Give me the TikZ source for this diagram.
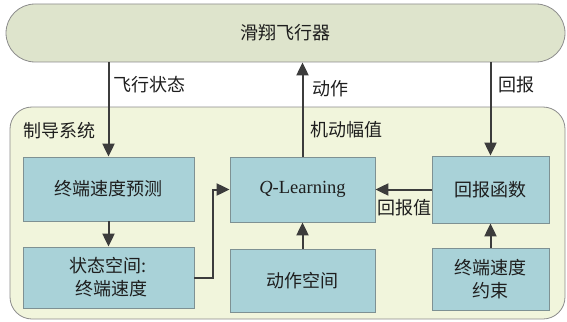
\documentclass[tikz,border=0pt]{standalone}
\usepackage{fontspec}
\setmainfont{Liberation Serif}
\newfontfamily\cjk{Noto Sans CJK SC}
\usetikzlibrary{arrows.meta}
\definecolor{topfill}{HTML}{DEE4CC}
\definecolor{innerfill}{HTML}{F1F5DC}
\definecolor{boxfill}{HTML}{A9D2D8}
\definecolor{edgegray}{HTML}{8C8C8C}
\definecolor{boxedge}{HTML}{7E9193}
\definecolor{arrowgray}{HTML}{3C3C3C}
\definecolor{txt}{HTML}{1E1E1E}
\tikzset{
  cjktext/.style={font=\cjk\fontsize{18}{23}\selectfont, text=txt},
  blockbox/.style={draw=boxedge, fill=boxfill, line width=0.8pt, align=center, inner sep=0pt, cjktext},
  flowarrow/.style={draw=arrowgray, line width=2pt, -{Triangle[length=13pt,width=12pt]}},
  lbl/.style={cjktext, inner sep=0pt}
}
\begin{document}
\begin{tikzpicture}[x=1pt,y=-1pt]
\useasboundingbox (0,0) rectangle (567,321);
\node[draw=edgegray, fill=topfill, line width=0.8pt, rounded corners=29pt, minimum width=559pt, minimum height=58pt, inner sep=0pt, cjktext] (top) at (285.5,33) {滑翔飞行器};
\node[draw=edgegray, fill=innerfill, line width=0.8pt, rounded corners=22pt, minimum width=555pt, minimum height=212pt, inner sep=0pt] (inner) at (287.5,213) {};
\node[lbl, anchor=west] (sys) at (23,131) {制导系统};
\node[blockbox, minimum width=171pt, minimum height=64pt] (pred) at (108.5,189) {终端速度预测};
\node[blockbox, minimum width=171pt, minimum height=61pt] (state) at (108.5,277.5) {状态空间:\\\hspace*{6pt}终端速度};
\node[blockbox, minimum width=145pt, minimum height=65pt, font=\fontsize{18.5}{23}\selectfont] (ql) at (302.5,189.5) {\textit{Q}-Learning};
\node[blockbox, minimum width=145pt, minimum height=63pt] (act) at (302.5,280.5) {动作空间};
\node[blockbox, minimum width=117pt, minimum height=67pt] (rew) at (490.5,189.5) {回报函数};
\node[blockbox, minimum width=117pt, minimum height=62pt] (cons) at (490.5,279) {终端速度\\约束};
\draw[flowarrow] (top.south -| pred.north) -- (pred.north);
\draw[flowarrow] (pred.south) -- (state.north);
\draw[flowarrow] (state.east) -- ++(19,0) |- (ql.west);
\draw[flowarrow] (ql.north) -- (ql.north |- top.south);
\draw[flowarrow] (act.north) -- (ql.south);
\draw[flowarrow] (rew.west) -- (ql.east);
\draw[flowarrow] (cons.north) -- (rew.south);
\draw[flowarrow] (top.south -| rew.north) -- (rew.north);
\node[lbl, anchor=west] (l1) at (113,85) {飞行状态};
\node[lbl, anchor=west] (l2) at (312,89) {动作};
\node[lbl, anchor=west] (l3) at (498,85) {回报};
\node[lbl, anchor=west] (l4) at (310,130) {机动幅值};
\node[lbl, anchor=west] (l5) at (377,208) {回报值};
\end{tikzpicture}
\end{document}
